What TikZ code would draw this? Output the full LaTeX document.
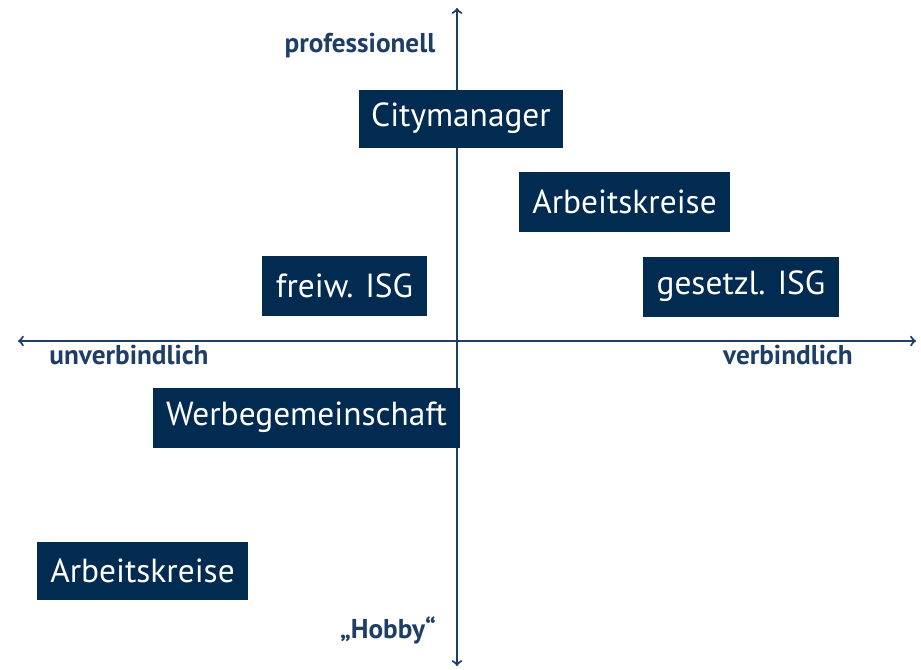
\documentclass[tikz,border=0pt]{standalone}
\usepackage{fontspec}
\setmainfont{PT Sans}
\definecolor{navy}{HTML}{022B52}
\definecolor{axisblue}{HTML}{1F3E66}
\tikzset{
  box/.style={fill=navy,text=white,inner sep=0pt,font=\fontsize{19}{22}\selectfont},
  axislabel/.style={text=axisblue,font=\bfseries\fontsize{15.5}{18}\selectfont}
}
\begin{document}
\begin{tikzpicture}[x=0.02cm,y=-0.02cm]
		\useasboundingbox (0,0) rectangle (921,670);
		\coordinate (top) at (457,8);
		\coordinate (bottom) at (457,666);
		\coordinate (left) at (18,341);
		\coordinate (right) at (916,341);
		\draw [axisblue,line width=1.2pt,<->] (top) -- (bottom);
		\draw [axisblue,line width=1.2pt,<->] (left) -- (right);
		\node [axislabel] (prof) at (360,46) {professionell};
		\node [axislabel] (unverb) at (129,355) {unverbindlich};
		\node [axislabel] (verb) at (788,355) {verbindlich};
		\node [axislabel] (hobby) at (388,630) {„Hobby“};
		\node [box,minimum width=204*0.02cm,minimum height=58*0.02cm] (city) at (461,118.5) {Citymanager};
		\node [box,minimum width=211*0.02cm,minimum height=60*0.02cm] (ak1) at (624.5,202) {Arbeitskreise};
		\node [box,minimum width=165*0.02cm,minimum height=60*0.02cm] (freiw) at (344.5,286) {freiw. ISG};
		\node [box,minimum width=196*0.02cm,minimum height=60*0.02cm] (gesetzl) at (741,286.5) {gesetzl. ISG};
		\node [box,minimum width=307*0.02cm,minimum height=60*0.02cm] (werbe) at (306.5,417.5) {Werbegemeinschaft};
		\node [box,minimum width=211*0.02cm,minimum height=58*0.02cm] (ak2) at (142.5,571) {Arbeitskreise};
	\end{tikzpicture}
\end{document}
